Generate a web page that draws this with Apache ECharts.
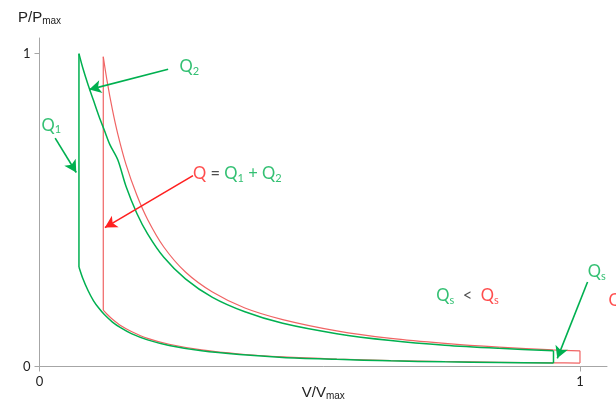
<!DOCTYPE html>
<html><head><meta charset="utf-8">
<script src="https://cdn.jsdelivr.net/npm/echarts@6/dist/echarts.min.js"></script>
<style>html,body{margin:0;padding:0;background:#fff}#c{width:616px;height:401px}</style>
</head><body><div id="c"></div>
<script>
// axis ticks
const xTicks = [0, 1];
const yTicks = [0, 1];

// green cycle (Q1 + Q2 heat addition, ends at V = 0.951)
const greenUpperV = [0.073, 0.08, 0.09, 0.10, 0.11, 0.12, 0.13, 0.145, 0.16, 0.18, 0.20, 0.23, 0.27, 0.32, 0.38, 0.45, 0.55, 0.65, 0.75, 0.85, 0.951];
const greenUpperP = [1.00, 0.955, 0.90, 0.85, 0.80, 0.755, 0.71, 0.66, 0.576, 0.49, 0.424, 0.349, 0.28, 0.221, 0.175, 0.138, 0.105, 0.083, 0.068, 0.058, 0.050];
const greenLowerV = [0.073, 0.08, 0.09, 0.10, 0.11, 0.12, 0.135, 0.15, 0.17, 0.20, 0.24, 0.30, 0.37, 0.45, 0.55, 0.65, 0.75, 0.85, 0.951];
const greenLowerP = [0.318, 0.282, 0.242, 0.210, 0.186, 0.166, 0.142, 0.124, 0.105, 0.085, 0.067, 0.050, 0.038, 0.029, 0.023, 0.018, 0.015, 0.013, 0.011];

// red cycle (Q heat addition, ends at V = 1)
const redUpperV = [0.118, 0.125, 0.135, 0.145, 0.16, 0.18, 0.20, 0.23, 0.27, 0.32, 0.38, 0.45, 0.55, 0.65, 0.75, 0.85, 0.95, 1.0];
const redUpperP = [0.99, 0.913, 0.820, 0.742, 0.646, 0.548, 0.470, 0.382, 0.302, 0.238, 0.187, 0.150, 0.114, 0.090, 0.074, 0.062, 0.053, 0.050];
const redLowerV = [0.118, 0.125, 0.135, 0.15, 0.17, 0.20, 0.24, 0.30, 0.37, 0.45, 0.55, 0.65, 0.75, 0.85, 0.95, 1.0];
const redLowerP = [0.18, 0.167, 0.151, 0.131, 0.112, 0.090, 0.071, 0.053, 0.040, 0.031, 0.024, 0.019, 0.016, 0.0135, 0.0117, 0.011];

// annotation arrows [fromV, fromP] -> [toV, toP]
const arrowNames = ['Q1', 'Q2', 'Q', 'QsGreen', 'QsRed'];
const arrowFrom = [[0.029, 0.73], [0.238, 0.95], [0.284, 0.61], [1.014, 0.27], [1.066, 0.187]];
const arrowTo   = [[0.068, 0.62], [0.092, 0.885], [0.121, 0.444], [0.958, 0.026], [1.006, 0.026]];
const arrowColor = ['green', 'green', 'red', 'green', 'red'];

// annotation labels
const labelText = [
  '{g|Q}{gs|1}',
  '{g|Q}{gs|2}',
  '{r|Q}{k| = }{g|Q}{gs|1}{g| + Q}{gs|2}',
  '{g|Q}{gs|s}{k|  <  }{r|Q}{rs|s}',
  '{g|Q}{gs|s}',
  '{r|Q}{rs|s}'
];
const labelPos = [[0.022, 0.771], [0.277, 0.957], [0.366, 0.615], [0.792, 0.225], [1.031, 0.302], [1.053, 0.212]];

const GREEN = '#00b050';
const RED = '#ff2020';
const CURVE_RED = '#f06464';
const colMap = {green: GREEN, red: RED};

function zip(a, b) { return a.map((v, i) => [v, b[i]]); }
const gU = zip(greenUpperV, greenUpperP), gL = zip(greenLowerV, greenLowerP);
const rU = zip(redUpperV, redUpperP), rL = zip(redLowerV, redLowerP);
// straight vertical strokes joining the curve ends
const greenVert = [gL[0], gU[0], null, gU[gU.length - 1], gL[gL.length - 1]];
const redVert = [rL[0], rU[0], null, rU[rU.length - 1], rL[rL.length - 1]];

const FONT = 'Lato';
const rich = {
  g: {color: GREEN, fontSize: 16.5, fontFamily: FONT},
  gs: {color: GREEN, fontSize: 11, fontFamily: FONT, verticalAlign: 'bottom', padding: [8, 0, 0, 0]},
  r: {color: RED, fontSize: 16.5, fontFamily: FONT},
  rs: {color: RED, fontSize: 11, fontFamily: FONT, verticalAlign: 'bottom', padding: [8, 0, 0, 0]},
  k: {color: '#222', fontSize: 16.5, fontFamily: FONT}
};

function curve(data, color, width, z) {
  return {type: 'line', data: data, showSymbol: false, symbol: 'none', clip: false,
          smooth: 0.3, connectNulls: false,
          lineStyle: {color: color, width: width}, z: z};
}
function straight(data, color, width, z) {
  return {type: 'line', data: data, showSymbol: false, symbol: 'none', clip: false,
          connectNulls: false, lineStyle: {color: color, width: width}, z: z};
}

const nameRich = {
  a: {fontSize: 15, fontFamily: 'Liberation Sans', color: '#222'},
  b: {fontSize: 10, fontFamily: 'Liberation Sans', color: '#222', verticalAlign: 'bottom', padding: [7, 0, 0, 0]}
};

const chart = echarts.init(document.getElementById('c'), null, {renderer: 'canvas'});
chart.setOption({
  animation: false,
  backgroundColor: '#fff',
  grid: {left: 39.5, right: 9, top: 38, bottom: 34.5, outerBoundsMode: 'none', containLabel: false},
  xAxis: {
    type: 'value', min: 0, max: 1.05,
    name: '{a|V/V}{b|max}', nameLocation: 'middle', nameGap: 18, nameMoveOverlap: false,
    nameTextStyle: {rich: nameRich},
    splitLine: {show: false},
    axisLine: {lineStyle: {color: '#a6a6a6'}},
    axisTick: {customValues: xTicks, length: 5, lineStyle: {color: '#a6a6a6'}},
    axisLabel: {customValues: xTicks, margin: 9, fontSize: 13, fontFamily: FONT, color: '#222'}
  },
  yAxis: {
    type: 'value', min: 0, max: 1.05,
    name: '{a|P/P}{b|max}', nameLocation: 'end', nameGap: 12, nameMoveOverlap: false,
    nameTextStyle: {rich: nameRich},
    splitLine: {show: false},
    axisLine: {show: true, lineStyle: {color: '#a6a6a6'}},
    axisTick: {show: true, customValues: yTicks, length: 5, lineStyle: {color: '#a6a6a6'}},
    axisLabel: {customValues: yTicks, margin: 9, fontSize: 13, fontFamily: FONT, color: '#222'}
  },
  series: [
    curve(rU, CURVE_RED, 1.2, 2),
    curve(rL, CURVE_RED, 1.2, 2),
    straight(redVert, CURVE_RED, 1.2, 2),
    curve(gU, GREEN, 1.5, 3),
    curve(gL, GREEN, 1.5, 3),
    straight(greenVert, GREEN, 1.5, 3),
    {type: 'line', data: [], clip: false, z: 5,
     markLine: {
       silent: true, animation: false, symbol: ['none', 'arrow'], symbolSize: [10, 12],
       label: {show: false},
       data: arrowNames.map((n, i) => [
         {coord: arrowFrom[i], lineStyle: {color: colMap[arrowColor[i]], width: 1.6, type: 'solid'}},
         {coord: arrowTo[i]}
       ])
     }},
    {type: 'scatter', symbolSize: 0, clip: false, z: 6, silent: true,
     data: labelPos.map((p, i) => ({
       value: p,
       label: {show: true, position: i === 5 ? 'right' : 'inside', distance: 0, formatter: labelText[i], rich: rich}
     }))}
  ]
});
</script></body></html>
